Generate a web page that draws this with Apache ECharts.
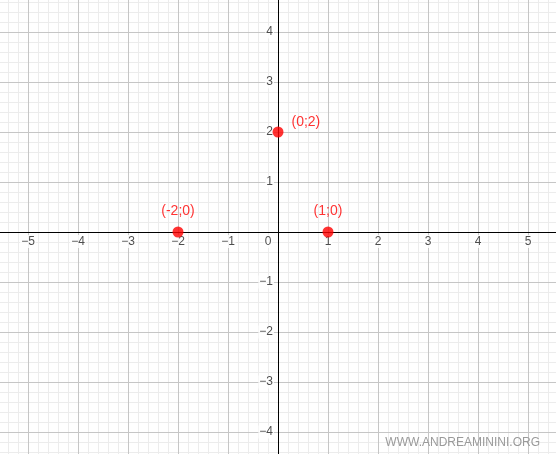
<!DOCTYPE html>
<html>
<head>
<meta charset="utf-8">
<script src="https://cdn.jsdelivr.net/npm/echarts@6/dist/echarts.min.js"></script>
<style>html,body{margin:0;padding:0;background:#fff}#c{width:556px;height:454px}</style>
</head>
<body>
<div id="c"></div>
<script>
// 点数据与标签
const pointsX = [0, -2, 1]
const pointsY = [2, 0, 0]
const pointLabels = ['(0;2)', '(-2;0)', '(1;0)']
// 刻度标签
const xTicks = [-5, -4, -3, -2, -1, 0, 1, 2, 3, 4, 5]
const yTicks = [-4, -3, -2, -1, 1, 2, 3, 4]

const minus = (v) => (v < 0 ? '\u2212' + Math.abs(v) : String(v))

// 网格线：主线每 1，细线每 0.2
const minorLines = []
const majorLines = []
for (let k = -30; k <= 30; k++) {
  const v = k / 5
  const target = k % 5 === 0 ? majorLines : minorLines
  target.push({ xAxis: v })
  target.push({ yAxis: v })
}

const lineSeries = (data, color) => ({
  type: 'line', data: [], silent: true, zlevel: 0,
  markLine: {
    silent: true, symbol: 'none', label: { show: false }, animation: false,
    lineStyle: { color, width: 1, type: 'solid' }, data
  }
})

const tickLabel = {
  color: '#222', fontSize: 12, fontFamily: 'Arial',
  backgroundColor: '#fff', padding: [1, 1, 0, 1]
}

const chart = echarts.init(document.getElementById('c'))
chart.setOption({
  animation: false,
  grid: { left: 0, right: 0, top: 0, bottom: 0 },
  xAxis: {
    type: 'value', min: -5.56, max: 5.56, zlevel: 1,
    axisLine: { onZero: true, lineStyle: { color: '#000', width: 1 } },
    axisTick: { show: false }, axisLabel: { show: false }, splitLine: { show: false }
  },
  yAxis: {
    type: 'value', min: -4.44, max: 4.64, zlevel: 1,
    axisLine: { onZero: true, lineStyle: { color: '#000', width: 1 } },
    axisTick: { show: false }, axisLabel: { show: false }, splitLine: { show: false }
  },
  graphic: [
    { type: 'text', right: 16, top: 437, zlevel: 2, style: { text: 'WWW.ANDREAMININI.ORG', fill: '#9a9a9a', font: '12px Arial' } }
  ],
  series: [
    lineSeries(minorLines, '#ececec'),
    lineSeries(majorLines, '#c6c6c6'),
    {
      type: 'scatter', symbolSize: 0, silent: true, zlevel: 2,
      data: xTicks.map((v) => ({
        value: [v, 0],
        label: { offset: v === 0 ? [-10, 0] : [0, 0] }
      })),
      label: Object.assign({
        show: true, position: 'bottom', distance: 3,
        formatter: (p) => minus(p.value[0])
      }, tickLabel)
    },
    {
      type: 'scatter', symbolSize: 0, silent: true, zlevel: 2,
      data: yTicks.map((v) => [0, v]),
      label: Object.assign({
        show: true, position: 'left', distance: 4,
        formatter: (p) => minus(p.value[1])
      }, tickLabel)
    },
    {
      type: 'scatter', symbolSize: 11, zlevel: 3,
      itemStyle: { color: '#ff0000' },
      data: pointsX.map((x, i) => ({
        value: [x, pointsY[i]],
        label: {
          show: true, formatter: pointLabels[i],
          position: i === 0 ? 'right' : 'top',
          offset: i === 0 ? [2, -10] : [0, -2],
          distance: 6,
          color: '#ff0000', fontSize: 14, fontFamily: 'Arial'
        }
      }))
    }
  ]
})
</script>
</body>
</html>
